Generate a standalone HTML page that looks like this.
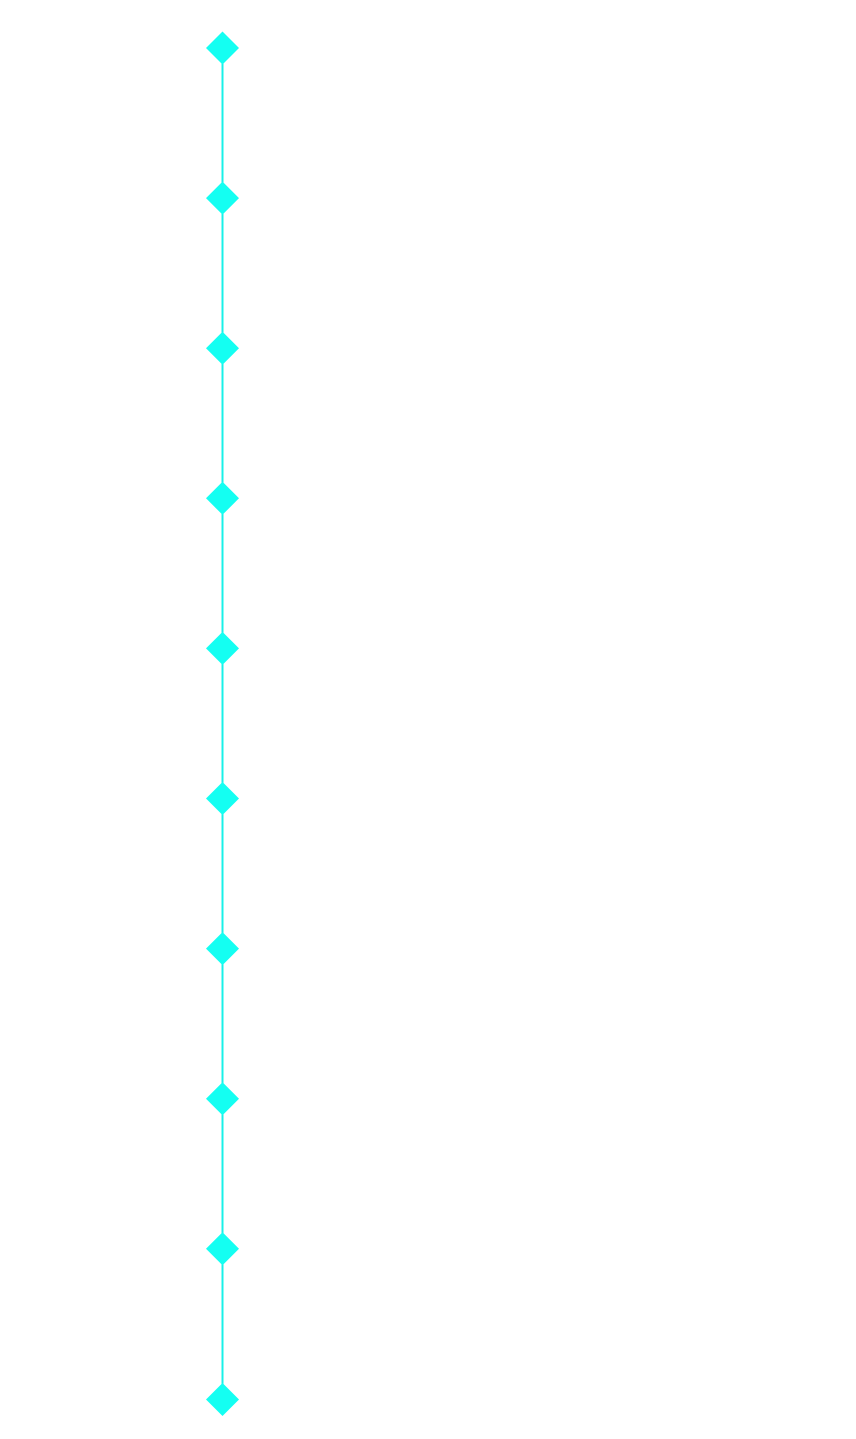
<!DOCTYPE html>
<html><head><meta charset="utf-8"><style>html,body{margin:0;padding:0;background:#fff;}svg{display:block}</style></head>
<body>
<svg width="856" height="1439" viewBox="0 0 856 1439" xmlns="http://www.w3.org/2000/svg">
<line x1="222.5" y1="48" x2="222.5" y2="1399.5" stroke="#19f0e8" stroke-width="2"/>
<g fill="#14fff2">
<polygon points="222.5,31.5 239,48 222.5,64.5 206,48"/>
<polygon points="222.5,181.6 239,198.1 222.5,214.6 206,198.1"/>
<polygon points="222.5,331.7 239,348.2 222.5,364.7 206,348.2"/>
<polygon points="222.5,481.8 239,498.3 222.5,514.8 206,498.3"/>
<polygon points="222.5,631.9 239,648.4 222.5,664.9 206,648.4"/>
<polygon points="222.5,782 239,798.5 222.5,815 206,798.5"/>
<polygon points="222.5,932.1 239,948.6 222.5,965.1 206,948.6"/>
<polygon points="222.5,1082.2 239,1098.7 222.5,1115.2 206,1098.7"/>
<polygon points="222.5,1232.3 239,1248.8 222.5,1265.3 206,1248.8"/>
<polygon points="222.5,1383 239,1399.5 222.5,1416 206,1399.5"/>
</g>
</svg>
</body></html>
